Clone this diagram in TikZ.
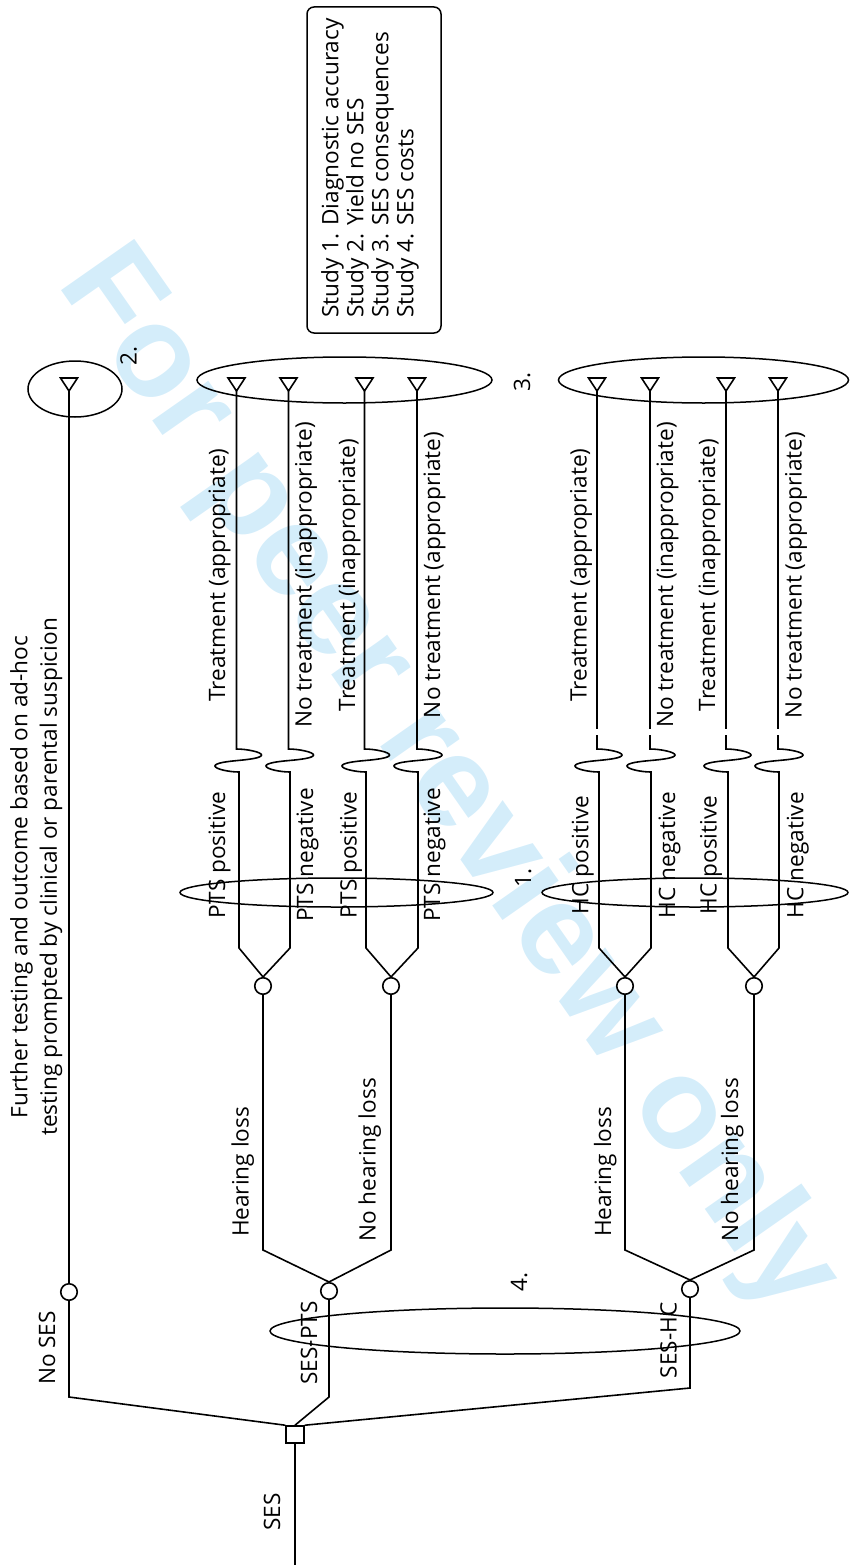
\documentclass[tikz,border=0pt]{standalone}
\usepackage{fontspec}
\setmainfont{Open Sans}
\newfontfamily\wmfont{Liberation Sans}
\usetikzlibrary{shapes.geometric}
\definecolor{wmblue}{RGB}{212,237,250}
\newcommand\lblfont{\fontsize{22.6}{27}\selectfont}
\begin{document}
\begin{tikzpicture}[x=1pt,y=-1pt,
  ln/.style={line width=1.6pt},
  chance/.style={circle, draw, line width=1.6pt, minimum size=16.5pt, inner sep=0pt, fill=white},
  decision/.style={rectangle, draw, line width=1.6pt, minimum width=18pt, minimum height=17pt, inner sep=0pt, fill=white},
  lbl/.style={rotate=90, anchor=base, font=\lblfont, inner sep=0pt},
  grp/.style={draw, ellipse, line width=1.5pt, inner sep=0pt},
  wm/.style={rotate=-55, text=wmblue, font=\wmfont\bfseries\fontsize{130}{130}\selectfont, inner sep=0pt},
  leaftri/.pic={\draw[line width=1.6pt, line join=miter] (0,0) -- (-8.5,-13) -- (8.5,-13) -- cycle;}
]
\useasboundingbox (0,0) rectangle (849,1565);
% watermark
\node[wm] (wmark) at (447,782) {For peer review only};

% root decision
\node[decision] (root) at (295,1434.5) {};
\coordinate (sesend) at (295,1565);
\draw[ln] (root.south) -- (sesend);

% first-level chance nodes
\node[chance] (nses) at (69,1292) {};
\node[chance] (sp) at (329,1291) {};
\node[chance] (sh) at (690,1289) {};
\coordinate (c0) at (69,1397);
\coordinate (c1) at (329,1397);
\coordinate (c2) at (690,1388);
\draw[ln] (root.north west) -- (c0) -- (nses.south);
\draw[ln] (root.north) -- (c1) -- (sp.south);
\draw[ln] (root.north east) -- (c2) -- (sh.south);

% No SES leaf
\coordinate (T0) at (69,391);
\pic at (T0) {leaftri};
\draw[ln] (nses.north) -- (T0);

% second-level chance nodes
\node[chance] (p1) at (263,986) {};
\node[chance] (p2) at (391,986) {};
\node[chance] (h1) at (625,986) {};
\node[chance] (h2) at (754,986) {};
\coordinate (kp1) at (263,1250);
\coordinate (kp2) at (391,1250);
\coordinate (kh1) at (625,1250);
\coordinate (kh2) at (754,1250);
\draw[ln] (p1.south) -- (kp1) -- (sp.north) -- (kp2) -- (p2.south);
\draw[ln] (h1.south) -- (kh1) -- (sh.north) -- (kh2) -- (h2.south);

% PTS leaves
\foreach \n/\xa/\xb/\pa in {a1/236.5/239/p1, a2/288.5/290/p1, a3/364.5/366/p2, a4/417/418/p2}{
  \coordinate (T\n) at (\xa,391);
  \coordinate (W\n) at (\xa,749);
  \coordinate (B\n) at (\xb,772);
  \coordinate (K\n) at (\xb,948);
  \pic at (T\n) {leaftri};
  \draw[ln] (T\n) -- (W\n) .. controls ({\xa+10},749) and ({\xa+25},752) .. ({\xa+25},755)
     .. controls ({\xa+25},758) and ({\xa+12},759.5) .. ({(\xa+\xb)/2},760.5)
     .. controls ({\xb-12},761.5) and ({\xb-24},763) .. ({\xb-24},766)
     .. controls ({\xb-24},769) and ({\xb-10},772) .. (B\n) -- (K\n) -- (\pa.north);
}
% HC leaves
\foreach \n/\xa/\xb/\pa in {b1/597/599/h1, b2/650/651/h1, b3/726/728/h2, b4/778/779/h2}{
  \coordinate (T\n) at (\xa,391);
  \coordinate (D\n) at (\xa,729);
  \coordinate (E\n) at (\xa,735);
  \coordinate (W\n) at (\xa,749);
  \coordinate (B\n) at (\xb,772);
  \coordinate (K\n) at (\xb,948);
  \pic at (T\n) {leaftri};
  \draw[ln] (T\n) -- (D\n);
  \draw[ln] (E\n) -- (W\n) .. controls ({\xa+10},749) and ({\xa+25},752) .. ({\xa+25},755)
     .. controls ({\xa+25},758) and ({\xa+12},759.5) .. ({(\xa+\xb)/2},760.5)
     .. controls ({\xb-12},761.5) and ({\xb-24},763) .. ({\xb-24},766)
     .. controls ({\xb-24},769) and ({\xb-10},772) .. (B\n) -- (K\n) -- (\pa.north);
}

% grouping ellipses
\node[grp, minimum width=94pt, minimum height=56pt] (g2) at (75,389) {};
\node[grp, minimum width=295pt, minimum height=46pt] (g3a) at (344.5,380) {};
\node[grp, minimum width=290pt, minimum height=46pt] (g3b) at (703.5,380) {};
\node[grp, minimum width=313pt, minimum height=29pt] (g1a) at (336.5,892.5) {};
\node[grp, minimum width=306pt, minimum height=29pt] (g1b) at (695,892.5) {};
\node[grp, minimum width=470pt, minimum height=46pt] (g4) at (505,1331) {};

% study numbers
\node[lbl] (n2) at (136.7,356) {2.};
\node[lbl] (n3) at (530,382) {3.};
\node[lbl] (n1) at (531,878) {1.};
\node[lbl] (n4) at (527,1282) {4.};

% legend
\node[draw, line width=1.5pt, rounded corners=7pt, rotate=90, minimum width=326pt, minimum height=134pt, inner sep=0pt] (legbox) at (374,170) {};
\node[rotate=90, align=left, anchor=north west, inner sep=0pt, font=\fontsize{22.6}{25}\selectfont] (legtext) at (321,318)
  {Study 1. Diagnostic accuracy\\Study 2. Yield no SES\\Study 3. SES consequences\\Study 4. SES costs};

% further testing text
\node[rotate=90, align=center, anchor=north, inner sep=0pt, font=\fontsize{22.6}{29.5}\selectfont] (ftext) at (10,877)
  {Further testing and outcome based on ad-hoc\\testing prompted by clinical or parental suspicion};

% branch labels
\node[lbl] (lnses) at (55,1348) {No SES};
\node[lbl] (lses) at (280,1512) {SES};
\node[lbl] (lsp) at (317,1343) {SES-PTS};
\node[lbl] (lsh) at (676.5,1340.5) {SES-HC};
\node[lbl] (lhl1) at (248.5,1172) {Hearing loss};
\node[lbl] (lnhl1) at (375.5,1160) {No hearing loss};
\node[lbl] (lhl2) at (611,1172) {Hearing loss};
\node[lbl] (lnhl2) at (738,1160) {No hearing loss};

\node[lbl] (lpp1) at (225,855) {PTS positive};
\node[lbl] (lpn1) at (313,855) {PTS negative};
\node[lbl] (lpp2) at (356.5,855) {PTS positive};
\node[lbl] (lpn2) at (440,855) {PTS negative};
\node[lbl] (lhp1) at (588.3,855) {HC positive};
\node[lbl] (lhn1) at (675,855) {HC negative};
\node[lbl] (lhp2) at (716.7,855) {HC positive};
\node[lbl] (lhn2) at (803.3,855) {HC negative};

\node[lbl] (ta1) at (225,575) {Treatment (appropriate)};
\node[lbl] (ta2) at (311.7,575) {No treatment (inappropriate)};
\node[lbl] (ta3) at (355,575) {Treatment (inappropriate)};
\node[lbl] (ta4) at (440,575) {No treatment (appropriate)};
\node[lbl] (tb1) at (586.7,575) {Treatment (appropriate)};
\node[lbl] (tb2) at (673,575) {No treatment (inappropriate)};
\node[lbl] (tb3) at (715,575) {Treatment (inappropriate)};
\node[lbl] (tb4) at (801.7,575) {No treatment (appropriate)};
\end{tikzpicture}
\end{document}
